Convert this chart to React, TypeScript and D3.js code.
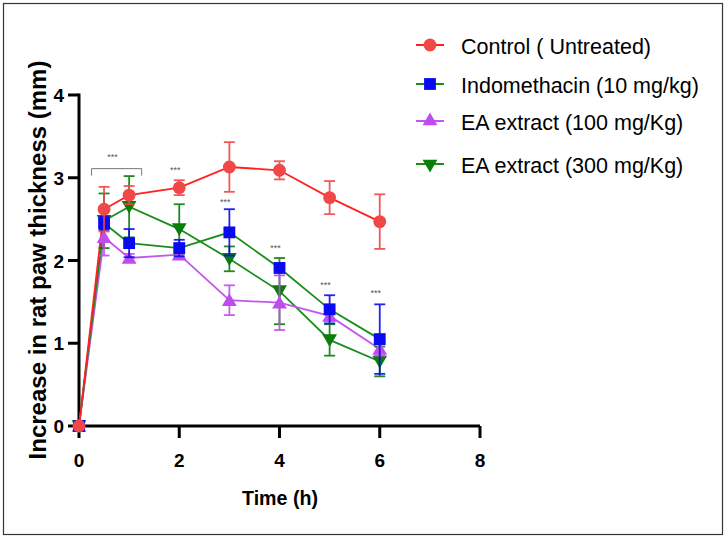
import React from 'react';
import * as d3 from 'd3';

// Time points (h)
const times = [0, 0.5, 1, 2, 3, 4, 5, 6];

// Mean increase in paw thickness (mm) and SEM for each group
const control = [0, 2.62, 2.79, 2.88, 3.13, 3.09, 2.76, 2.47];
const controlErr = [0, 0.27, 0.11, 0.09, 0.3, 0.11, 0.2, 0.33];
const indomethacin = [0, 2.45, 2.21, 2.15, 2.34, 1.91, 1.41, 1.05];
const indomethacinErr = [0, 0.08, 0.17, 0.1, 0.28, 0.05, 0.17, 0.42];
const ea100 = [0, 2.28, 2.03, 2.07, 1.52, 1.49, 1.33, 0.93];
const ea100Err = [0, 0.22, 0.05, 0.05, 0.18, 0.33, 0.06, 0.08];
const ea300 = [0, 2.48, 2.65, 2.38, 2.02, 1.63, 1.04, 0.78];
const ea300Err = [0, 0.33, 0.37, 0.3, 0.15, 0.4, 0.19, 0.18];

const xTicks = [0, 2, 4, 6, 8];
const yTicks = [0, 1, 2, 3, 4];

// significance marks: time, height (mm)
const sigMarks = [
  { t: 0.67, y: 3.27 },
  { t: 1.92, y: 3.12 },
  { t: 2.92, y: 2.73 },
  { t: 3.92, y: 2.17 },
  { t: 4.92, y: 1.73 },
  { t: 5.92, y: 1.63 },
];
const sigBracket = { from: 0.25, to: 1.25, y: 3.11 };

type Series = {
  name: string;
  values: number[];
  errors: number[];
  marker: string;
  line: string;
  symbol: d3.SymbolType;
  size: number;
  rotate: number;
};

const series: Series[] = [
  { name: 'EA extract (300 mg/Kg)', values: ea300, errors: ea300Err, marker: '#0b7d0b', line: '#1a8c1a', symbol: d3.symbolTriangle, size: 95, rotate: 180 },
  { name: 'EA extract (100 mg/Kg)', values: ea100, errors: ea100Err, marker: '#bf4ded', line: '#c255ee', symbol: d3.symbolTriangle, size: 95, rotate: 0 },
  { name: 'Indomethacin (10 mg/kg)', values: indomethacin, errors: indomethacinErr, marker: '#0a0af2', line: '#1a8c1a', symbol: d3.symbolSquare, size: 140, rotate: 0 },
  { name: 'Control ( Untreated)', values: control, errors: controlErr, marker: '#f04747', line: '#ff2020', symbol: d3.symbolCircle, size: 130, rotate: 0 },
];

const legendOrder = [3, 2, 1, 0];
const legendRows = [45, 84, 121, 164];

const FONT = '"Liberation Sans", Arial, sans-serif';

export default function App() {
  const width = 728;
  const height = 539;

  const x = d3.scaleLinear().domain([0, 8]).range([79, 480]);
  const y = d3.scaleLinear().domain([0, 4]).range([426, 95]);

  const line = d3
    .line<number>()
    .x((_, i) => x(times[i]))
    .y((d) => y(d));

  const sym = (s: Series, size: number) => d3.symbol().type(s.symbol).size(size)() as string;
  const nudge = (s: Series) => (s.symbol === d3.symbolTriangle ? (s.rotate ? -1.5 : 1.5) : 0);

  return (
    <div style={{ position: 'fixed', left: 0, top: 0 }}>
      <svg width={width} height={height} style={{ display: 'block', background: '#fff' }}>
        <rect x={3.5} y={3.5} width={719} height={531} fill="none" stroke="#333" strokeWidth={1.2} />

        {/* axes */}
        <line x1={x(0)} x2={x(8)} y1={y(0)} y2={y(0)} stroke="#000" strokeWidth={3} />
        <line x1={x(0)} x2={x(0)} y1={y(0)} y2={y(4) - 1.5} stroke="#000" strokeWidth={3} />
        {xTicks.map((t) => (
          <g key={'x' + t}>
            <line x1={x(t)} x2={x(t)} y1={y(0)} y2={y(0) + 12} stroke="#000" strokeWidth={3} />
            <text x={x(t)} y={467} textAnchor="middle" fontFamily={FONT} fontWeight="bold" fontSize={19}>
              {t}
            </text>
          </g>
        ))}
        {yTicks.map((t) => (
          <g key={'y' + t}>
            <line x1={x(0) - 11} x2={x(0)} y1={y(t)} y2={y(t)} stroke="#000" strokeWidth={3} />
            <text x={64} y={y(t) + 7} textAnchor="end" fontFamily={FONT} fontWeight="bold" fontSize={19}>
              {t}
            </text>
          </g>
        ))}

        <text x={280} y={505} textAnchor="middle" fontFamily={FONT} fontWeight="bold" fontSize={21} textLength={76} lengthAdjust="spacingAndGlyphs">
          Time (h)
        </text>
        <text
          transform="translate(46,260) rotate(-90)"
          textAnchor="middle"
          fontFamily={FONT}
          fontWeight="bold"
          fontSize={24}
        >
          Increase in rat paw thickness (mm)
        </text>

        {/* lines */}
        {series.map((s) => (
          <path key={s.name + 'l'} d={line(s.values) as string} fill="none" stroke={s.line} strokeWidth={1.8} />
        ))}

        {/* error bars + markers */}
        {series.map((s) => (
          <g key={s.name + 'm'}>
            {s.values.map((v, i) =>
              s.errors[i] > 0 ? (
                <g key={i} stroke={s.marker} strokeWidth={1.8} opacity={0.9}>
                  <line x1={x(times[i])} x2={x(times[i])} y1={y(v - s.errors[i])} y2={y(v + s.errors[i])} />
                  <line x1={x(times[i]) - 5.5} x2={x(times[i]) + 5.5} y1={y(v + s.errors[i])} y2={y(v + s.errors[i])} />
                  <line x1={x(times[i]) - 5.5} x2={x(times[i]) + 5.5} y1={y(v - s.errors[i])} y2={y(v - s.errors[i])} />
                </g>
              ) : null
            )}
            {s.values.map((v, i) => (
              <path
                key={'p' + i}
                d={sym(s, s.size)}
                transform={`translate(${x(times[i])},${y(v) + nudge(s)}) rotate(${s.rotate})`}
                fill={s.marker}
              />
            ))}
          </g>
        ))}

        {/* significance */}
        <path
          d={`M${x(sigBracket.from)},${y(sigBracket.y) + 7}V${y(sigBracket.y)}H${x(sigBracket.to)}V${y(sigBracket.y) + 7}`}
          fill="none"
          stroke="#777"
          strokeWidth={1}
        />
        {sigMarks.map((m, i) => (
          <text key={i} x={x(m.t)} y={y(m.y) + 5} textAnchor="middle" fontFamily={FONT} fontSize={9} fill="#555">
            ***
          </text>
        ))}

        {/* legend */}
        {legendOrder.map((si, r) => {
          const s = series[si];
          const cy = legendRows[r];
          return (
            <g key={'lg' + si}>
              <line x1={416} x2={444} y1={cy} y2={cy} stroke={s.line} strokeWidth={2} />
              <path d={sym(s, s.size)} transform={`translate(430,${cy}) rotate(${s.rotate})`} fill={s.marker} />
              <text x={461} y={cy + 9} fontFamily={FONT} fontSize={21.5} fill="#000">
                {s.name}
              </text>
            </g>
          );
        })}
      </svg>
    </div>
  );
}
